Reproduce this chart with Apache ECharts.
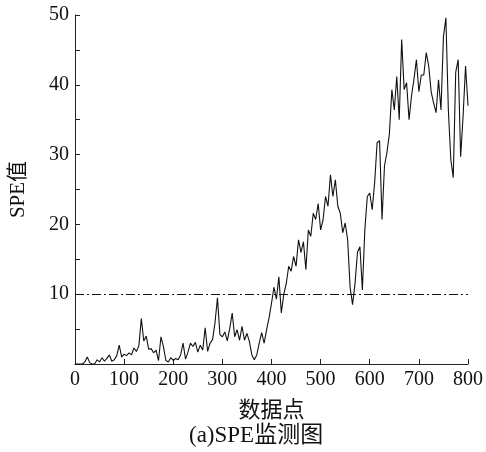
<!DOCTYPE html>
<html>
<head>
<meta charset="utf-8">
<script src="https://cdn.jsdelivr.net/npm/echarts@6/dist/echarts.min.js"></script>
<style>html,body{margin:0;padding:0;background:#fff}#c{width:486px;height:452px}</style>
</head>
<body>
<div id="c"></div>
<script>
// sample index step (data points 0..800)
const xStep = 5;
const speValues = [
  0,0,0,0,0.3,1.0,0.2,0,0,0.6,
  0.3,0.9,0.4,0.8,1.3,0.4,0.6,1.2,2.7,1.0,
  1.4,1.2,1.6,1.3,2.3,1.8,2.6,6.5,3.3,4.0,
  2.1,2.2,1.6,2.0,0.5,3.9,2.5,0.5,0.3,0.9,
  0.5,0.8,0.6,1.3,3.0,0.7,1.7,3.0,2.5,3.1,
  1.7,2.7,2.0,5.2,1.8,3.0,3.5,5.9,9.5,4.2,
  3.9,4.6,3.3,5.1,7.3,3.9,4.9,3.4,5.4,3.4,
  4.4,3.2,1.3,0.6,1.3,3.0,4.5,3.0,4.9,6.6,
  8.7,11,9.3,12.5,7.3,10,11.5,14,13.3,15.4,
  14,17.8,16,17.5,13.5,19.2,18.3,21.6,20.7,23,
  19.2,20.7,24,22.6,27.1,24,26.4,22.6,21.6,18.8,
  20.2,17.8,11,8.5,11.5,16,16.8,10.6,19.2,24,
  24.5,22.1,26,31.7,32,20.7,28.4,30.3,33,39.3,
  36.4,41.2,35,46.5,39.3,40.3,35,38.4,40.8,43.6,
  39,41.4,41.4,44.6,42.7,39,37.4,36,40.7,36.4,
  46.9,49.6,36.4,29.3,26.7,41.8,43.6,29.7,35.5,42.7,
  37
];
const controlLimit = 10;
const xTicks = [0,100,200,300,400,500,600,700,800];
const yTicks = [10,20,30,40,50];
const xName = '数据点';
const yName = 'SPE值';
const caption = '(a)SPE监测图';

const FONT = '"Liberation Serif","Times New Roman","Noto Sans CJK SC",serif';
const seriesData = speValues.map((v, i) => [i * xStep, v]);

const chart = echarts.init(document.getElementById('c'), null, {renderer: 'canvas'});
chart.setOption({
  animation: false,
  backgroundColor: '#fff',
  grid: {left: 68, right: 14, top: 15, bottom: 88, containLabel: false},
  xAxis: {
    type: 'value', min: 0, max: 800, interval: 100,
    name: xName, nameLocation: 'middle', nameGap: 36,
    nameTextStyle: {fontFamily: FONT, fontSize: 22, color: '#111'},
    axisLine: {show: true, onZero: false, lineStyle: {color: '#222', width: 1}},
    axisTick: {show: true, inside: true, length: 5, lineStyle: {color: '#222'}},
    axisLabel: {fontFamily: FONT, fontSize: 20, color: '#111', margin: 6,
      formatter: v => xTicks.includes(v) ? String(v) : ''},
    splitLine: {show: false}
  },
  yAxis: {
    type: 'value', min: 0, max: 50, interval: 5,
    name: yName, nameLocation: 'middle', nameGap: 46, nameRotate: 90,
    nameTextStyle: {fontFamily: FONT, fontSize: 21, color: '#111'},
    axisLine: {show: true, lineStyle: {color: '#222', width: 1}},
    axisTick: {show: true, inside: true, length: 5, lineStyle: {color: '#222'}},
    axisLabel: {fontFamily: FONT, fontSize: 20, color: '#111', margin: 6,
      formatter: v => yTicks.includes(v) ? String(v) : ''},
    splitLine: {show: false}
  },
  graphic: [{
    type: 'text', left: 189, top: 424,
    style: {text: caption, font: '23px ' + FONT, fill: '#111'}
  }],
  series: [{
    type: 'line', data: seriesData, showSymbol: false, symbol: 'none',
    lineStyle: {color: '#111', width: 1.1},
    markLine: {
      silent: true, symbol: 'none', label: {show: false},
      lineStyle: {color: '#111', width: 1, type: [9, 3, 2, 3]},
      data: [{yAxis: controlLimit}]
    }
  }]
});
</script>
</body>
</html>
